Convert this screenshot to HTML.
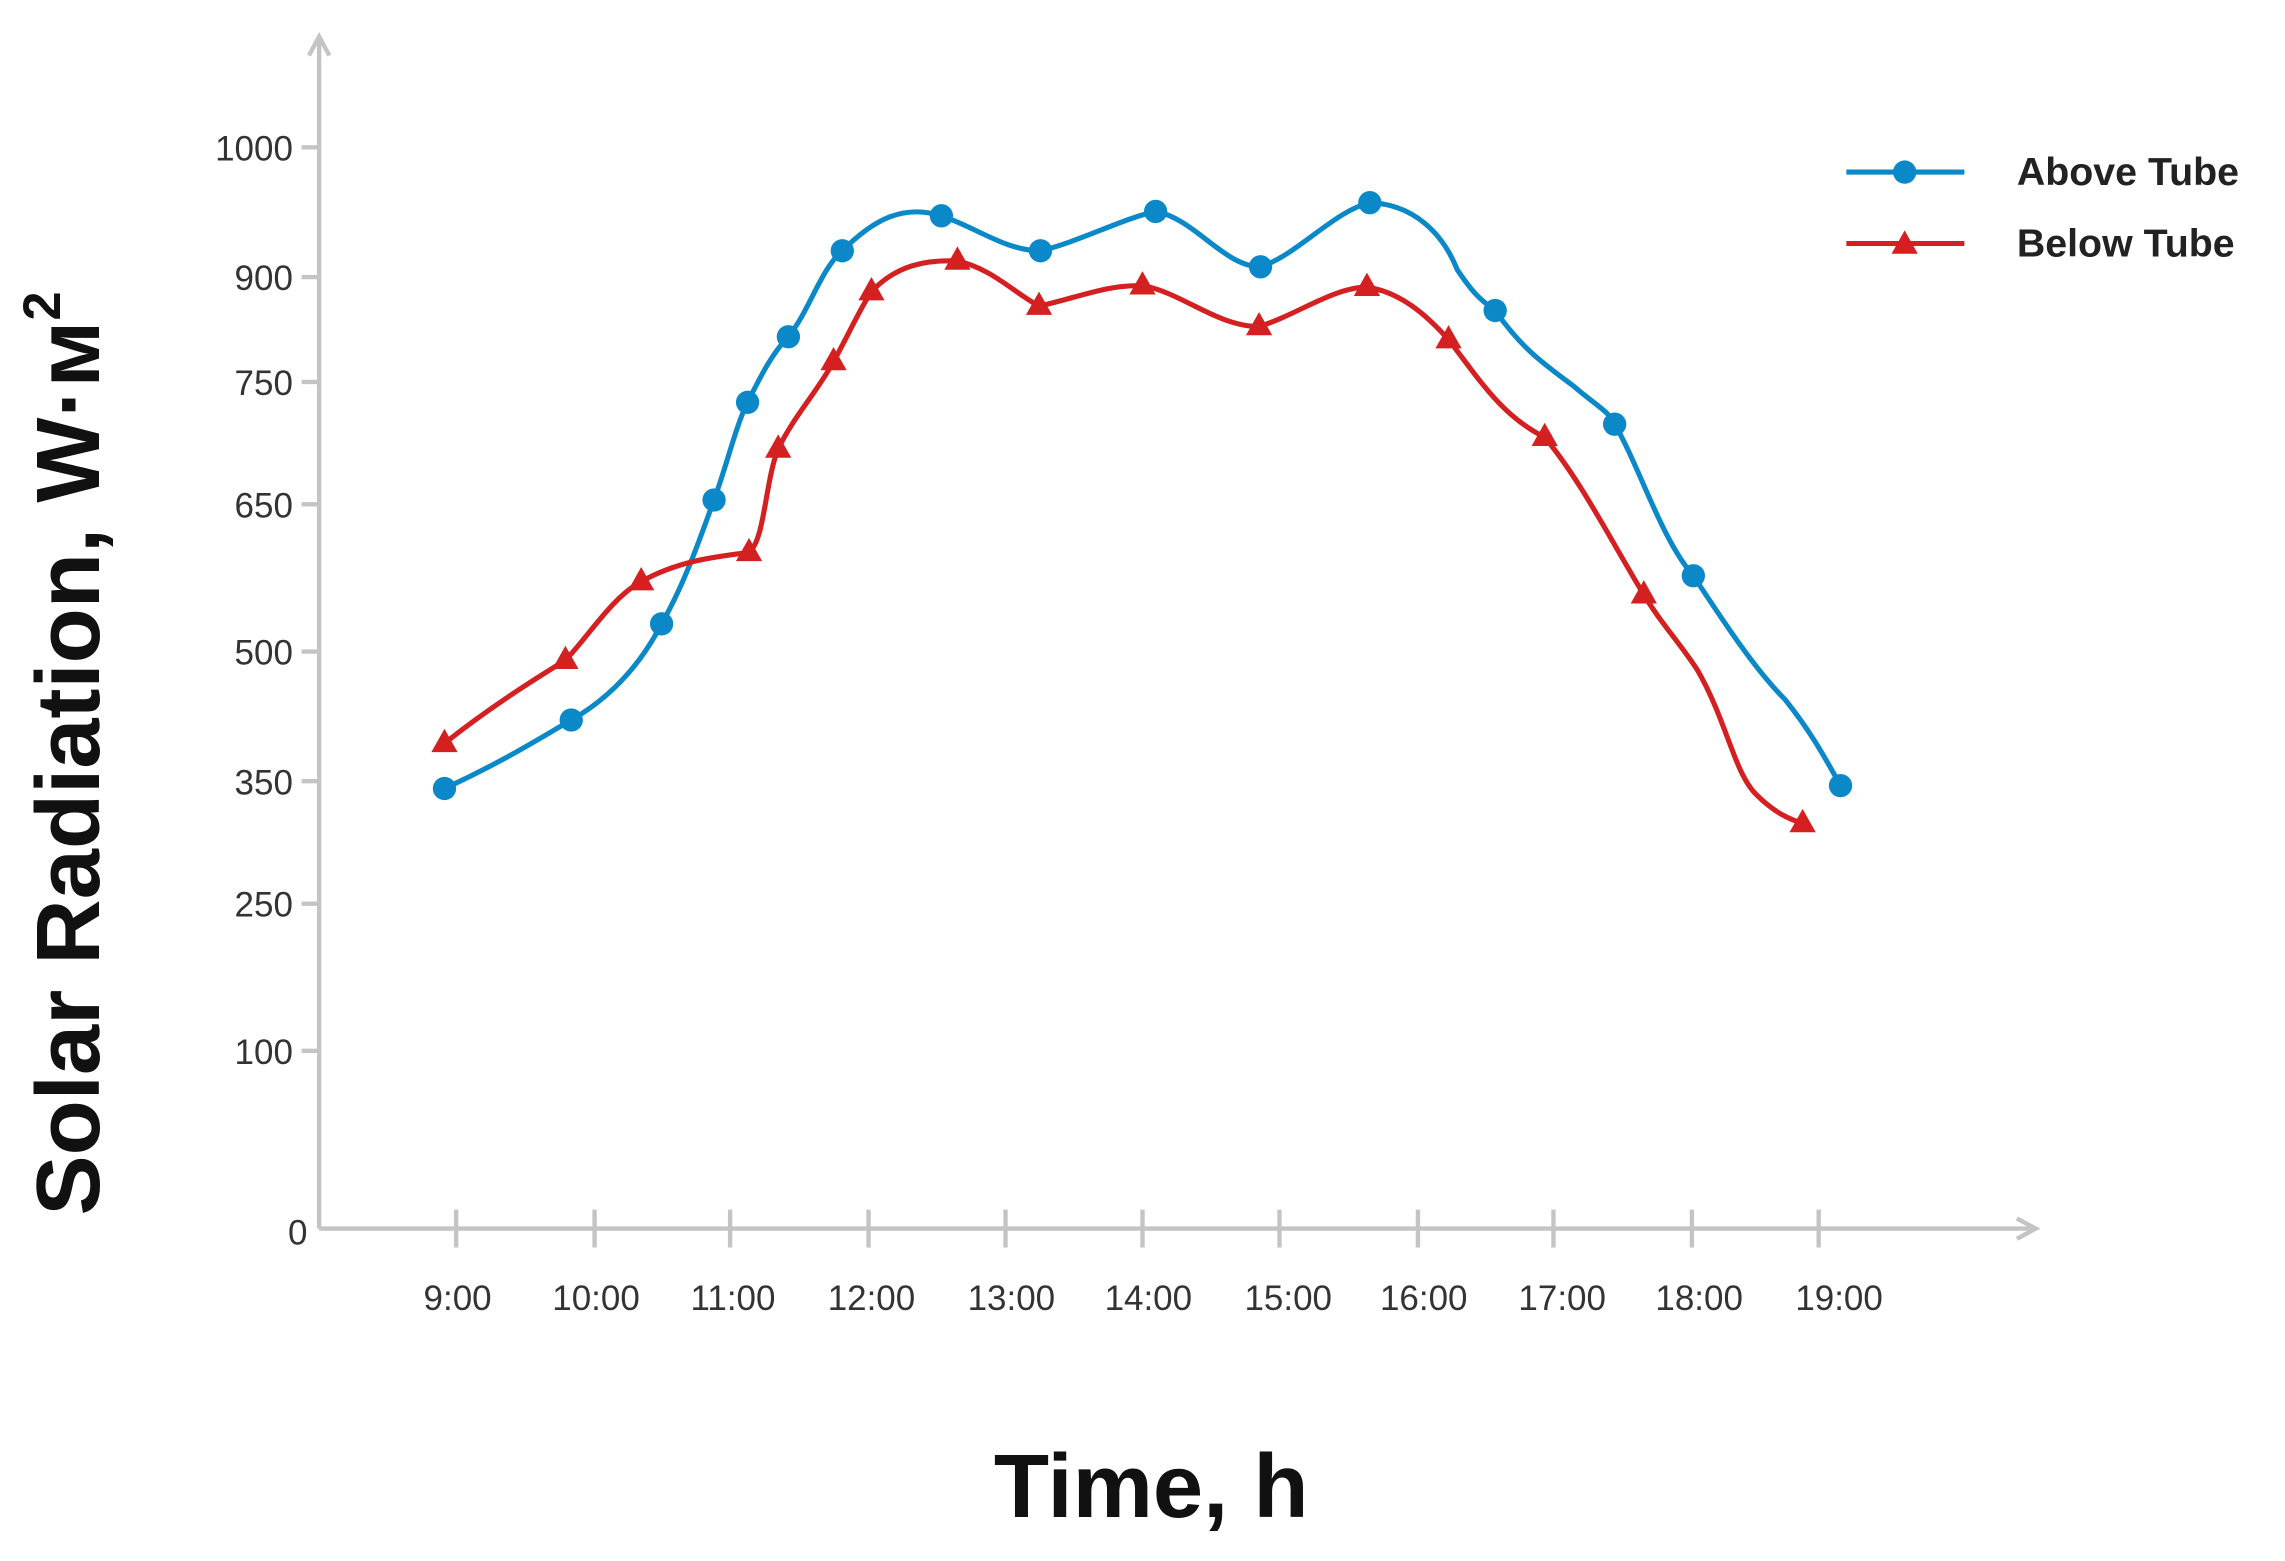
<!DOCTYPE html>
<html><head><meta charset="utf-8"><style>html,body{margin:0;padding:0;background:#fff}svg{display:block}</style></head>
<body>
<svg width="2285" height="1561" viewBox="0 0 1568 1071" xmlns="http://www.w3.org/2000/svg" font-family="Liberation Sans, Arial, sans-serif">
<rect width="1568" height="1071" fill="#fff"/>
<g stroke="#c4c4c4" stroke-width="3" fill="none">
<line x1="219" y1="25" x2="219" y2="843"/>
<polyline points="212,38 219,25 226,38"/>
<line x1="219" y1="843" x2="1396" y2="843"/>
<polyline points="1384,836 1397,843 1384,850"/>
<line x1="207" y1="101" x2="219" y2="101"/>
<line x1="207" y1="190" x2="219" y2="190"/>
<line x1="207" y1="262" x2="219" y2="262"/>
<line x1="207" y1="346" x2="219" y2="346"/>
<line x1="207" y1="447" x2="219" y2="447"/>
<line x1="207" y1="536" x2="219" y2="536"/>
<line x1="207" y1="620" x2="219" y2="620"/>
<line x1="207" y1="721" x2="219" y2="721"/>
<line x1="313" y1="830" x2="313" y2="856"/>
<line x1="408" y1="830" x2="408" y2="856"/>
<line x1="501" y1="830" x2="501" y2="856"/>
<line x1="596" y1="830" x2="596" y2="856"/>
<line x1="690" y1="830" x2="690" y2="856"/>
<line x1="784" y1="830" x2="784" y2="856"/>
<line x1="878" y1="830" x2="878" y2="856"/>
<line x1="973" y1="830" x2="973" y2="856"/>
<line x1="1066" y1="830" x2="1066" y2="856"/>
<line x1="1161" y1="830" x2="1161" y2="856"/>
<line x1="1248" y1="830" x2="1248" y2="856"/>
</g>
<g font-size="24" fill="#333" text-anchor="end">
<text x="201" y="110">1000</text><text x="201" y="199">900</text><text x="201" y="271">750</text>
<text x="201" y="355">650</text><text x="201" y="456">500</text><text x="201" y="545">350</text>
<text x="201" y="629">250</text><text x="201" y="730">100</text><text x="211" y="854">0</text>
</g>
<g font-size="24" fill="#333" text-anchor="middle">
<text x="314" y="899">9:00</text><text x="409" y="899">10:00</text><text x="503" y="899">11:00</text>
<text x="598" y="899">12:00</text><text x="694" y="899">13:00</text><text x="788" y="899">14:00</text>
<text x="884" y="899">15:00</text><text x="977" y="899">16:00</text><text x="1072" y="899">17:00</text>
<text x="1166" y="899">18:00</text><text x="1262" y="899">19:00</text>
</g>
<path fill="none" stroke="#0a88c8" stroke-width="3.5" stroke-linejoin="round" d="M305,541 C340,525 365,510 392,494 C420,478 440,455 454,428 C470,400 480,370 490,343 C500,315 505,292 513,276 C522,258 530,242 541,231 C556,212 563,185 578,172 C600,150 620,140 646,148 C670,156 690,172 714,172 C740,166 770,150 793,145 C820,150 840,183 865,183 C890,175 915,145 940,139 C970,140 990,160 1000,185 C1010,200 1015,205 1026,213 C1045,240 1060,250 1080,265 C1095,278 1104,282 1108,291 C1125,320 1140,370 1162,395 C1185,430 1205,460 1225,480 C1245,505 1255,525 1263,539"/>
<path fill="none" stroke="#d42020" stroke-width="3.5" stroke-linejoin="round" d="M305,510 C330,490 360,470 388,453 C405,435 420,410 440,399 C465,385 490,382 514,379 C525,370 525,330 534,308 C545,285 560,270 572,248 C582,230 590,212 598,200 C615,182 635,178 657,179 C680,184 695,200 713,210 C740,204 760,195 784,196 C810,200 835,224 864,224 C890,216 915,197 938,197 C960,200 978,215 994,233 C1015,260 1030,285 1060,300 C1085,330 1105,370 1128,408 C1140,428 1152,440 1165,460 C1185,495 1190,530 1205,545 C1218,558 1228,562 1237,565"/>
<g fill="#0a88c8">
<circle cx="305" cy="541" r="8"/><circle cx="392" cy="494" r="8"/><circle cx="454" cy="428" r="8"/>
<circle cx="490" cy="343" r="8"/><circle cx="513" cy="276" r="8"/><circle cx="541" cy="231" r="8"/>
<circle cx="578" cy="172" r="8"/><circle cx="646" cy="148" r="8"/><circle cx="714" cy="172" r="8"/>
<circle cx="793" cy="145" r="8"/><circle cx="865" cy="183" r="8"/><circle cx="940" cy="139" r="8"/>
<circle cx="1026" cy="213" r="8"/><circle cx="1108" cy="291" r="8"/><circle cx="1162" cy="395" r="8"/>
<circle cx="1263" cy="539" r="8"/>
<line x1="1267" y1="118" x2="1348" y2="118" stroke="#0a88c8" stroke-width="3.5"/>
<circle cx="1307" cy="118" r="8"/>
</g>
<g fill="#d42020">
<path d="M305,500 l9,16 h-18z M388,443 l9,16 h-18z M440,389 l9,16 h-18z M514,369 l9,16 h-18z M534,298 l9,16 h-18z M572,238 l9,16 h-18z M598,190 l9,16 h-18z M657,169 l9,16 h-18z M713,200 l9,16 h-18z M784,186 l9,16 h-18z M864,214 l9,16 h-18z M938,187 l9,16 h-18z M994,223 l9,16 h-18z M1060,290 l9,16 h-18z M1128,398 l9,16 h-18z M1237,555 l9,16 h-18z M1307,158 l9,16 h-18z"/>
<line x1="1267" y1="167" x2="1348" y2="167" stroke="#d42020" stroke-width="3.5"/>
</g>
<g font-size="27" font-weight="bold" fill="#222">
<text x="1384" y="127">Above Tube</text>
<text x="1384" y="176">Below Tube</text>
</g>
<text transform="translate(68,517) rotate(-90)" text-anchor="middle" font-size="62" font-weight="bold" fill="#111">Solar Radiation, W·м<tspan font-size="36" dy="-27">2</tspan></text>
<text x="790" y="1041" text-anchor="middle" font-size="62" font-weight="bold" fill="#111">Time, h</text>
</svg>
</body></html>
